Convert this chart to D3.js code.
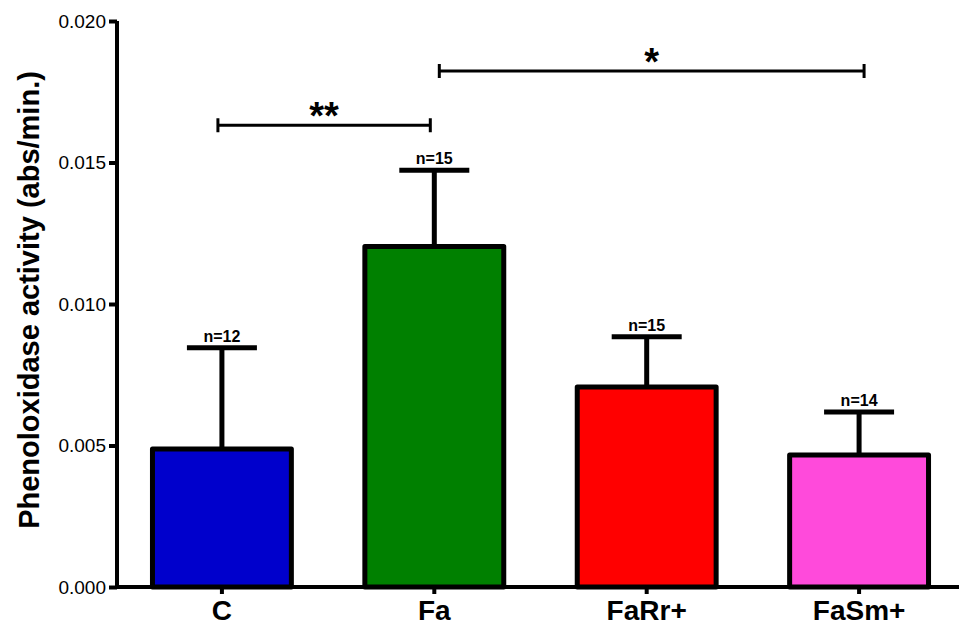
<!DOCTYPE html>
<html>
<head>
<meta charset="utf-8">
<script src="https://cdn.jsdelivr.net/npm/d3@7/dist/d3.min.js"></script>
<style>
  body { margin: 0; background: #fff; }
  text { font-family: "Liberation Sans", Arial, sans-serif; }
</style>
</head>
<body>
<div id="chart"></div>
<script>
// data
var groups = ["C", "Fa", "FaRr+", "FaSm+"];
var means = [0.00488, 0.01203, 0.00707, 0.00466];
var upper = [0.00845, 0.01473, 0.00884, 0.00618];   // mean + SEM
var nLabels = ["n=12", "n=15", "n=15", "n=14"];
var colors = ["#0000CC", "#008000", "#FF0000", "#FF4ADB"];
var yTicks = [0, 0.005, 0.010, 0.015, 0.020];
// significance brackets: from group, to group, height, label
var sigFrom = ["C", "Fa"];
var sigTo = ["Fa", "FaSm+"];
var sigY = [0.01632, 0.01823];
var sigText = ["**", "*"];

var width = 959, height = 625;

var svg = d3.select("#chart")
  .append("svg")
  .attr("width", width)
  .attr("height", height);

var x = d3.scaleBand()
  .domain(groups)
  .range([117, 964])
  .paddingInner(0.346)
  .paddingOuter(0.167);

var y = d3.scaleLinear()
  .domain([0, 0.020])
  .range([587, 21]);

var rows = groups.map(function(g, i) {
  return { g: g, mean: means[i], up: upper[i], n: nLabels[i], color: colors[i] };
});

// error bars (behind bars)
svg.selectAll(".err")
  .data(rows)
  .enter().append("line")
  .attr("class", "err")
  .attr("x1", function(d) { return x(d.g) + x.bandwidth() / 2; })
  .attr("x2", function(d) { return x(d.g) + x.bandwidth() / 2; })
  .attr("y1", function(d) { return y(d.mean); })
  .attr("y2", function(d) { return y(d.up); })
  .style("stroke", "#000")
  .style("stroke-width", 5);

svg.selectAll(".cap")
  .data(rows)
  .enter().append("line")
  .attr("class", "cap")
  .attr("x1", function(d) { return x(d.g) + x.bandwidth() / 2 - 35; })
  .attr("x2", function(d) { return x(d.g) + x.bandwidth() / 2 + 35; })
  .attr("y1", function(d) { return y(d.up); })
  .attr("y2", function(d) { return y(d.up); })
  .style("stroke", "#000")
  .style("stroke-width", 5);

svg.selectAll(".bar")
  .data(rows)
  .enter().append("rect")
  .attr("class", "bar")
  .attr("x", function(d) { return x(d.g); })
  .attr("y", function(d) { return y(d.mean); })
  .attr("width", x.bandwidth())
  .attr("height", function(d) { return y(0) - y(d.mean); })
  .style("fill", function(d) { return d.color; })
  .style("stroke", "#000")
  .style("stroke-width", 5)
  .style("stroke-linejoin", "round");

svg.selectAll(".nlab")
  .data(rows)
  .enter().append("text")
  .attr("class", "nlab")
  .attr("x", function(d) { return x(d.g) + x.bandwidth() / 2; })
  .attr("y", function(d) { return y(d.up) - 6; })
  .attr("text-anchor", "middle")
  .style("font-size", "16px")
  .style("font-weight", "bold")
  .text(function(d) { return d.n; });

// y axis
var yAxis = svg.append("g")
  .attr("transform", "translate(117,0)")
  .call(d3.axisLeft(y).tickValues(yTicks).tickFormat(d3.format(".3f")).tickSize(8).tickPadding(3));
yAxis.select(".domain").attr("d", "M0," + y(0.020) + "V" + (y(0) + 2)).style("stroke-width", 4);
yAxis.selectAll(".tick line").style("stroke-width", 4);
yAxis.selectAll(".tick text")
  .style("font-size", "19px")
  .style("font-family", "'Liberation Sans', Arial, sans-serif")
  .attr("fill", "#000");

// x axis
var xAxis = svg.append("g")
  .attr("transform", "translate(0,587)")
  .call(d3.axisBottom(x).tickSize(7).tickPadding(6));
xAxis.select(".domain").attr("d", "M115,0H959").style("stroke-width", 4);
xAxis.selectAll(".tick line").style("stroke-width", 4);
xAxis.selectAll(".tick text")
  .style("font-size", "28px")
  .style("font-weight", "bold")
  .style("font-family", "'Liberation Sans', Arial, sans-serif")
  .attr("fill", "#000");

// y axis title
svg.append("text")
  .attr("transform", "translate(39,300) rotate(-90)")
  .attr("text-anchor", "middle")
  .style("font-size", "29px")
  .style("font-weight", "bold")
  .text("Phenoloxidase activity (abs/min.)");

// significance brackets
var sigShift = [-4, 5];
var sig = sigText.map(function(t, i) {
  return { a: sigFrom[i], b: sigTo[i], v: sigY[i], t: t, s: sigShift[i] };
});
var cx = function(g) { return x(g) + x.bandwidth() / 2; };

var br = svg.selectAll(".sig")
  .data(sig)
  .enter().append("g")
  .attr("class", "sig");

br.append("path")
  .attr("d", function(d) {
    var x1 = cx(d.a) + d.s, x2 = cx(d.b) + d.s, yy = y(d.v);
    return "M" + x1 + "," + yy + "H" + x2 +
      "M" + x1 + "," + (yy - 7) + "V" + (yy + 7) +
      "M" + x2 + "," + (yy - 7) + "V" + (yy + 7);
  })
  .style("fill", "none")
  .style("stroke", "#000")
  .style("stroke-width", 3);

br.append("text")
  .attr("x", function(d) { return (cx(d.a) + cx(d.b)) / 2 + d.s; })
  .attr("y", function(d) { return y(d.v) + 4; })
  .attr("text-anchor", "middle")
  .style("font-size", "38px")
  .style("font-weight", "bold")
  .text(function(d) { return d.t; });
</script>
</body>
</html>
